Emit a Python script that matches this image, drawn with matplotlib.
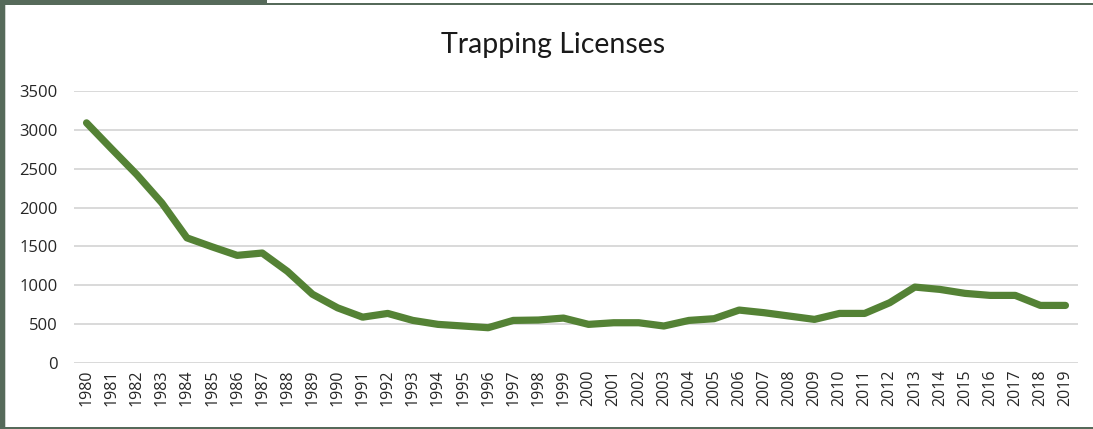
import matplotlib.pyplot as plt
from matplotlib.patches import Rectangle
import numpy as np

years = [str(y) for y in range(1980, 2020)]
licenses = [3090, 2755, 2425, 2060, 1610, 1495, 1385, 1415, 1180, 885,
            710, 590, 638, 548, 497, 476, 454, 548, 553, 578,
            497, 518, 518, 476, 548, 570, 681, 647, 604, 561,
            638, 638, 776, 977, 947, 896, 870, 870, 741, 741]

W, H = 1093, 429
fig = plt.figure(figsize=(W / 100, H / 100), dpi=100)
fig.patch.set_facecolor("white")

# frame around the chart (screenshot border)
frame = "#566a5a"
def px_rect(x, y, w, h, color):
    fig.patches.append(Rectangle((x / W, 1 - (y + h) / H), w / W, h / H,
                                 transform=fig.transFigure, color=color, lw=0, zorder=5))
px_rect(0, 0, 5, H, frame)
px_rect(0, 0, 267, 4.5, frame)
px_rect(267, 3.5, W - 267, 1.5, frame)
px_rect(0, H - 2, W, 2, frame)
px_rect(5, 5, 1.2, H - 7, "#d0d4d0")

ax = fig.add_axes([74 / W, 1 - 363 / H, (1078 - 74) / W, (363 - 91) / H])
x = np.arange(len(years))
ax.plot(x, licenses, color="#548235", lw=5.2, solid_capstyle="round",
        solid_joinstyle="round", zorder=3)

ax.set_xlim(-0.5, len(years) - 0.5)
ax.set_ylim(0, 3500)
ax.set_yticks(np.arange(0, 3501, 500))
ax.set_xticks(x)
ax.set_xticklabels(years, rotation=90, fontsize=11.5, family="Open Sans", color="#262626")
for lbl in ax.get_yticklabels():
    lbl.set_fontsize(12)
    lbl.set_family("Open Sans")
    lbl.set_color("#262626")
ax.tick_params(length=0)
ax.tick_params(axis="x", pad=5)
ax.tick_params(axis="y", pad=12)
ax.grid(axis="y", color="#d9d9d9", lw=1.4)
ax.set_axisbelow(True)
for s in ax.spines.values():
    s.set_visible(False)

fig.text(553 / W, 1 - 45 / H, "Trapping Licenses", ha="center", va="center",
         fontsize=20.5, family="Lato", color="#1a1a1a")

fig.savefig("out.png", dpi=100)
